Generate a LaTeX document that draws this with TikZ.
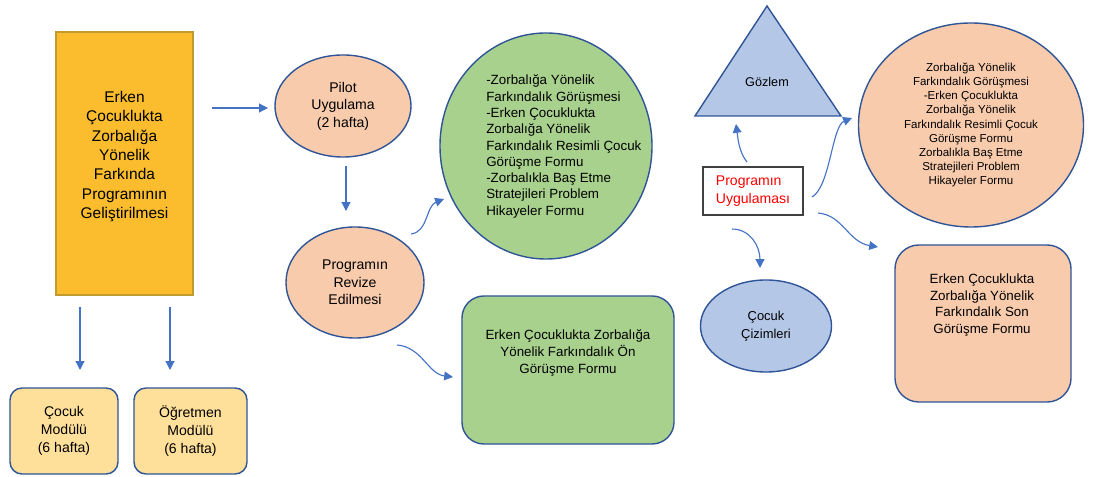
\documentclass[tikz,border=0pt]{standalone}
\usepackage{fontspec}
\setmainfont{Liberation Sans}
\usetikzlibrary{arrows.meta,shapes.geometric}

\definecolor{kenar}{HTML}{2F5597}
\definecolor{okmavi}{HTML}{4472C4}
\definecolor{sari}{HTML}{FBBD2E}
\definecolor{altin}{HTML}{C29B2E}
\definecolor{krem}{HTML}{FFE09B}
\definecolor{somon}{HTML}{F8CBAD}
\definecolor{yesil}{HTML}{A9D18E}
\definecolor{mavi}{HTML}{B4C7E7}

\begin{document}
\begin{tikzpicture}[x=0.025cm,y=-0.025cm,
	oka/.style={draw=okmavi,line width=0.8pt,-{Triangle[length=2.2mm,width=2.2mm]}},
	kutu/.style={draw=kenar,line width=1pt,rounded corners=0.3cm,align=center,inner sep=0pt},
	elips/.style={ellipse,draw=kenar,line width=1pt,align=center,inner sep=0pt},
	yazi/.style={align=center,inner sep=0pt}]
	\useasboundingbox (0,0) rectangle (1093,477);

	% sol blok
	\node[draw=altin,fill=sari,line width=1.2pt,minimum width=3.425cm,minimum height=6.575cm] (ana) at (124.5,163.5) {};
	\node[yazi,font=\fontsize{11}{13.8}\selectfont] (anayazi) at (124.5,156.5) {Erken\\Çocuklukta\\Zorbalığa\\Yönelik\\Farkında\\Programının\\Geliştirilmesi};
	\node[kutu,fill=krem,minimum width=2.7cm,minimum height=2.15cm,font=\fontsize{10}{12.6}\selectfont] (cocuk) at (64,431) {Çocuk\\Modülü\\(6 hafta)};
	\node[kutu,fill=krem,minimum width=2.825cm,minimum height=2.15cm,font=\fontsize{10}{12.6}\selectfont] (ogretmen) at (190.5,431) {Öğretmen\\Modülü\\(6 hafta)};

	% pilot ve revize
	\node[elips,fill=somon,minimum width=3.4cm,minimum height=2.55cm,font=\fontsize{10}{12.4}\selectfont] (pilot) at (343,106) {Pilot\\Uygulama\\(2 hafta)};
	\node[elips,fill=somon,minimum width=3.45cm,minimum height=2.775cm,font=\fontsize{10}{12.4}\selectfont] (revize) at (355,282.5) {Programın\\Revize\\Edilmesi};

	% formlar
	\node[elips,fill=yesil,minimum width=5.3cm,minimum height=5.65cm] (gorusme) at (546,146) {};
	\node[align=left,anchor=west,inner sep=0pt,font=\fontsize{9.5}{11.6}\selectfont] (gorusmeyazi) at (486,146.5) {-Zorbalığa Yönelik\\Farkındalık Görüşmesi\\-Erken Çocuklukta\\Zorbalığa Yönelik\\Farkındalık Resimli Çocuk\\Görüşme Formu\\-Zorbalıkla Baş Etme\\Stratejileri Problem\\Hikayeler Formu};
	\node[kutu,fill=yesil,rounded corners=0.55cm,minimum width=5.3cm,minimum height=3.7cm] (on) at (568,370) {};
	\node[yazi,font=\fontsize{9.5}{12.4}\selectfont] (onyazi) at (568,353) {Erken Çocuklukta Zorbalığa\\Yönelik Farkındalık Ön\\Görüşme Formu};

	% uygulama
	\coordinate (U1) at (767,6); \coordinate (U2) at (841,116); \coordinate (U3) at (695,116);
	\draw[draw=kenar,fill=mavi,line width=1pt] (U1)--(U2)--(U3)--cycle;
	\node[yazi,font=\fontsize{9}{11}\selectfont] (gozlem) at (767,82) {Gözlem};
	\node[draw=black!75,line width=0.8pt,minimum width=2.5cm,minimum height=1.2cm,align=left,text=red,font=\fontsize{10}{12.7}\selectfont] (uygulama) at (753,191) {Programın\\Uygulaması};
	\node[elips,fill=mavi,minimum width=3.275cm,minimum height=2.3cm,font=\fontsize{9.2}{12.5}\selectfont] (cizim) at (766,326) {Çocuk\\Çizimleri};
	\node[elips,fill=somon,minimum width=5.625cm,minimum height=5.1cm,font=\fontsize{8.2}{10.1}\selectfont] (sonrasi) at (971,125) {Zorbalığa Yönelik\\Farkındalık Görüşmesi\\-Erken Çocuklukta\\Zorbalığa Yönelik\\Farkındalık Resimli Çocuk\\Görüşme Formu\\Zorbalıkla Baş Etme\\Stratejileri Problem\\Hikayeler Formu};
	\node[kutu,fill=somon,rounded corners=0.6cm,minimum width=4.4cm,minimum height=3.925cm] (son) at (983,323.5) {};
	\node[yazi,font=\fontsize{9.5}{11.8}\selectfont] (sonyazi) at (982,305) {Erken Çocuklukta\\Zorbalığa Yönelik\\Farkındalık Son\\Görüşme Formu};

	% oklar
	\coordinate (A1) at (212,108); \coordinate (A2) at (268,108);
	\coordinate (B1) at (346,166); \coordinate (B2) at (346,211);
	\coordinate (C1) at (80,307); \coordinate (C2) at (80,370);
	\coordinate (D1) at (170,307); \coordinate (D2) at (170,370);
	\coordinate (E1) at (411,234); \coordinate (E2) at (444,199);
	\coordinate (F1) at (397,345); \coordinate (F2) at (453,377);
	\coordinate (G1) at (747,162); \coordinate (G2) at (736,124);
	\coordinate (H1) at (812,197); \coordinate (H2) at (852,118);
	\coordinate (K1) at (732,229); \coordinate (K2) at (760,268);
	\coordinate (L1) at (818,213); \coordinate (L2) at (878,247);
	\draw[oka] (A1)--(A2);
	\draw[oka] (B1)--(B2);
	\draw[oka] (C1)--(C2);
	\draw[oka] (D1)--(D2);
	\draw[oka] (E1) .. controls +(17,-2) and +(-18,7) .. (E2);
	\draw[oka] (F1) .. controls +(25,2) and +(-25,-3) .. (F2);
	\draw[oka] (G1) .. controls +(-8,-10) and +(2,15) .. (G2);
	\draw[oka] (H1) .. controls +(18,-10) and +(-20,8) .. (H2);
	\draw[oka] (K1) .. controls +(18,0) and +(0,-22) .. (K2);
	\draw[oka] (L1) .. controls +(25,2) and +(-30,-5) .. (L2);
\end{tikzpicture}
\end{document}
